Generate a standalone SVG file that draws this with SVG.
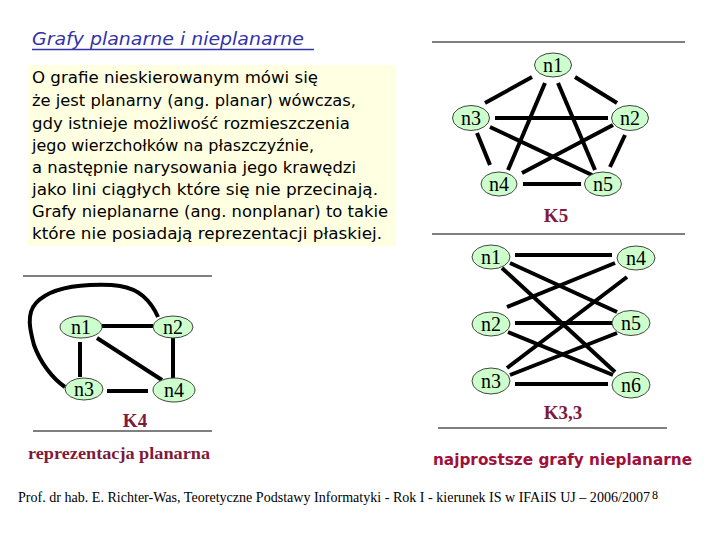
<svg xmlns="http://www.w3.org/2000/svg" width="720" height="540" viewBox="0 0 720 540">
<style>
.node ellipse{fill:#CCFFCC;stroke:#444;stroke-width:1}
.node text{font-family:"Liberation Serif",serif;font-size:20px;fill:#000;text-anchor:middle}
.edges line,.edges path{stroke:#000;stroke-width:4;fill:none}
.rule{stroke:#000;stroke-width:1.2}
.lbl{font-family:"Liberation Serif",serif;font-weight:bold;fill:#7F1A3A;text-anchor:middle}
.body{font-family:"DejaVu Sans",sans-serif;font-size:16px;fill:#000}
</style>
<rect width="720" height="540" fill="#fff"/>

<!-- title -->
<text x="32" y="45" font-family="DejaVu Sans, sans-serif" font-size="17" font-style="italic" fill="#3333AA" textLength="272" lengthAdjust="spacingAndGlyphs">Grafy planarne i nieplanarne</text>
<line x1="32" y1="49.5" x2="314" y2="49.5" stroke="#3333AA" stroke-width="1.5"/>

<!-- description -->
<rect x="28" y="65" width="368" height="181" fill="#FFFFE1"/>
<g class="body">
<text x="32" y="83" textLength="286" lengthAdjust="spacingAndGlyphs">O grafie nieskierowanym mówi się</text>
<text x="32" y="106" textLength="324" lengthAdjust="spacingAndGlyphs">że jest planarny (ang. planar) wówczas,</text>
<text x="32" y="129" textLength="318" lengthAdjust="spacingAndGlyphs">gdy istnieje możliwość rozmieszczenia</text>
<text x="32" y="151" textLength="282" lengthAdjust="spacingAndGlyphs">jego wierzchołków na płaszczyźnie,</text>
<text x="32" y="173" textLength="324" lengthAdjust="spacingAndGlyphs">a następnie narysowania jego krawędzi</text>
<text x="32" y="195" textLength="346" lengthAdjust="spacingAndGlyphs">jako lini ciągłych które się nie przecinają.</text>
<text x="32" y="217" textLength="356" lengthAdjust="spacingAndGlyphs">Grafy nieplanarne (ang. nonplanar) to takie</text>
<text x="32" y="239" textLength="350" lengthAdjust="spacingAndGlyphs">które nie posiadają reprezentacji płaskiej.</text>
</g>

<!-- rules -->
<line class="rule" x1="432" y1="42" x2="685" y2="42"/>
<line class="rule" x1="432" y1="234" x2="685" y2="234"/>
<line class="rule" x1="438" y1="428" x2="667" y2="428"/>
<line class="rule" x1="23" y1="276" x2="212" y2="276"/>
<line class="rule" x1="33" y1="431" x2="212" y2="431"/>

<!-- connectors -->
<g class="edges">
<!-- K5 -->
<line x1="532" y1="77" x2="485" y2="103"/>
<line x1="575" y1="77" x2="617" y2="103"/>
<line x1="545" y1="83" x2="508" y2="170"/>
<line x1="558" y1="83" x2="595" y2="170"/>
<line x1="495" y1="118" x2="608" y2="118"/>
<line x1="490" y1="127" x2="592" y2="175"/>
<line x1="613" y1="125" x2="522" y2="173"/>
<line x1="477" y1="133" x2="490" y2="165"/>
<line x1="625" y1="135" x2="610" y2="167"/>
<line x1="523" y1="184" x2="581" y2="184"/>
<!-- K3,3 -->
<line x1="515" y1="255" x2="612" y2="255"/>
<line x1="510" y1="263" x2="617" y2="312"/>
<line x1="502" y1="268" x2="615" y2="372"/>
<line x1="507" y1="307" x2="615" y2="263"/>
<line x1="515" y1="323" x2="612" y2="323"/>
<line x1="508" y1="332" x2="613" y2="375"/>
<line x1="507" y1="368" x2="627" y2="277"/>
<line x1="510" y1="375" x2="617" y2="333"/>
<line x1="515" y1="384" x2="608" y2="384"/>
<!-- K4 -->
<line x1="102" y1="326" x2="153" y2="326"/>
<line x1="80" y1="342" x2="80" y2="377"/>
<line x1="97" y1="338" x2="162" y2="380"/>
<line x1="173" y1="337" x2="173" y2="380"/>
<line x1="107" y1="391" x2="148" y2="391"/>
<path d="M65,387 C52,378 40,362 34,345 C30,330 26,314 36,303 C48,290 68,286 90,285 C112,284 130,285 143,296 C151,303 155,310 158,317"/>
</g>

<!-- K5 nodes -->
<g id="k5-n1" class="node"><ellipse cx="553" cy="65" rx="18.5" ry="12"/><text x="553" y="72">n1</text></g>
<g id="k5-n2" class="node"><ellipse cx="630" cy="118" rx="18.5" ry="12.5"/><text x="630" y="125">n2</text></g>
<g id="k5-n3" class="node"><ellipse cx="471" cy="118" rx="18.5" ry="12.5"/><text x="471" y="125">n3</text></g>
<g id="k5-n4" class="node"><ellipse cx="499" cy="184" rx="18" ry="12"/><text x="499" y="191">n4</text></g>
<g id="k5-n5" class="node"><ellipse cx="603" cy="184" rx="18.5" ry="12"/><text x="603" y="191">n5</text></g>
<text class="lbl" x="556" y="222" font-size="19">K5</text>

<!-- K3,3 nodes -->
<g id="k33-n1" class="node"><ellipse cx="491" cy="257" rx="19" ry="12"/><text x="491" y="264">n1</text></g>
<g id="k33-n2" class="node"><ellipse cx="491" cy="324" rx="19" ry="12"/><text x="491" y="331">n2</text></g>
<g id="k33-n3" class="node"><ellipse cx="491" cy="381" rx="19" ry="13"/><text x="491" y="388">n3</text></g>
<g id="k33-n4" class="node"><ellipse cx="636" cy="258" rx="19" ry="12"/><text x="636" y="265">n4</text></g>
<g id="k33-n5" class="node"><ellipse cx="631" cy="323" rx="19" ry="12.5"/><text x="631" y="330">n5</text></g>
<g id="k33-n6" class="node"><ellipse cx="631" cy="385" rx="19" ry="13"/><text x="631" y="392">n6</text></g>
<text class="lbl" x="563" y="419" font-size="19">K3,3</text>

<!-- K4 nodes -->
<g id="k4-n1" class="node"><ellipse cx="81" cy="327" rx="21" ry="11"/><text x="81" y="334">n1</text></g>
<g id="k4-n2" class="node"><ellipse cx="173" cy="327" rx="20" ry="11"/><text x="173" y="334">n2</text></g>
<g id="k4-n3" class="node"><ellipse cx="84" cy="389" rx="19" ry="11"/><text x="84" y="396">n3</text></g>
<g id="k4-n4" class="node"><ellipse cx="174" cy="390" rx="21" ry="12"/><text x="174" y="397">n4</text></g>
<text class="lbl" x="135" y="427" font-size="19">K4</text>

<text class="lbl" x="119" y="459" font-size="16" textLength="182" lengthAdjust="spacingAndGlyphs">reprezentacja planarna</text>
<text x="433" y="465" font-family="DejaVu Sans, sans-serif" font-size="15" font-weight="bold" fill="#A0103A" textLength="259" lengthAdjust="spacingAndGlyphs">najprostsze grafy nieplanarne</text>

<!-- footer -->
<text x="18" y="502" font-family="Liberation Serif, serif" font-size="14" fill="#000" textLength="632" lengthAdjust="spacingAndGlyphs">Prof. dr hab. E. Richter-Was, Teoretyczne Podstawy Informatyki - Rok I - kierunek IS w IFAiIS UJ – 2006/2007</text>
<text x="652" y="499" font-family="Liberation Serif, serif" font-size="12" fill="#000">8</text>
</svg>
